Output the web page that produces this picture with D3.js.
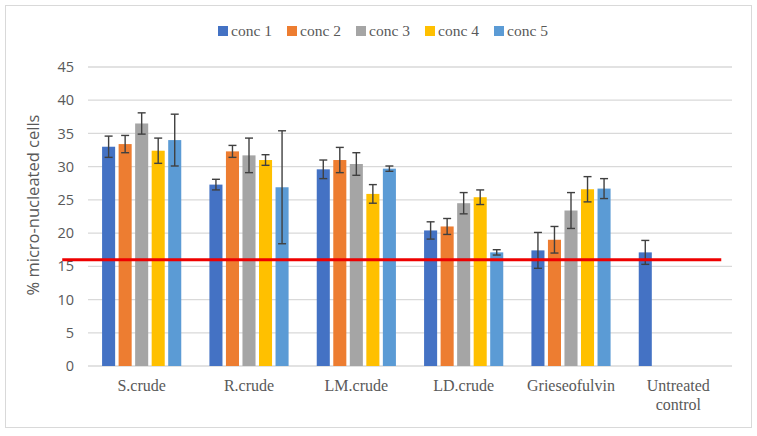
<!DOCTYPE html>
<html><head><meta charset="utf-8">
<script src="https://cdn.jsdelivr.net/npm/d3@7/dist/d3.min.js"></script>
<style>body{margin:0;background:#fff}</style>
</head><body><svg id="c" width="757" height="436"></svg>
<script>
const categories = ["S.crude","R.crude","LM.crude","LD.crude","Grieseofulvin","Untreated control"];
const seriesNames = ["conc 1","conc 2","conc 3","conc 4","conc 5"];
const colors = ["#4472C4","#ED7D31","#A5A5A5","#FFC000","#5B9BD5"];
const conc1 = [33.0, 27.3, 29.6, 20.4, 17.4, 17.1];
const conc2 = [33.4, 32.3, 31.0, 21.0, 19.0, null];
const conc3 = [36.5, 31.7, 30.4, 24.5, 23.4, null];
const conc4 = [32.4, 31.0, 25.9, 25.4, 26.6, null];
const conc5 = [34.0, 26.9, 29.7, 17.1, 26.7, null];
const err1 = [1.6, 0.8, 1.4, 1.3, 2.7, 1.8];
const err2 = [1.3, 0.9, 1.9, 1.2, 2.0, null];
const err3 = [1.6, 2.6, 1.7, 1.6, 2.7, null];
const err4 = [1.9, 0.8, 1.4, 1.1, 1.9, null];
const err5 = [3.9, 8.5, 0.4, 0.4, 1.5, null];
const yTicks = [0,5,10,15,20,25,30,35,40,45];
const refValue = 16;
const refExtent = [-0.24, 5.9]; // in category-index units
const yTitle = "% micro-nucleated cells";

const values = [conc1,conc2,conc3,conc4,conc5];
const errs = [err1,err2,err3,err4,err5];

const svg = d3.select("#c");
const L = 88, R = 732, T = 67, B = 366;

svg.append("rect").attr("x",5.5).attr("y",5.5).attr("width",746).attr("height",422)
  .attr("fill","#fff").attr("stroke","#d9d9d9").attr("stroke-width",1);

const y = d3.scaleLinear().domain([0,45]).range([B,T]);
const x0 = d3.scaleBand().domain(categories).range([L,R]).paddingInner(0.23).paddingOuter(0.115);
const x1 = d3.scaleBand().domain(seriesNames).range([0,x0.bandwidth()]).paddingInner(0.21).paddingOuter(0.105);
const xi = d3.scaleLinear().domain([0,6]).range([L,R]);

// gridlines
svg.append("g").selectAll("line").data(yTicks).join("line")
  .attr("x1",L).attr("x2",R).attr("y1",d=>y(d)).attr("y2",d=>y(d))
  .attr("stroke","#d9d9d9").attr("stroke-width",1.3);

// y tick labels
svg.append("g").selectAll("text").data(yTicks).join("text")
  .attr("x",74).attr("y",d=>y(d)).attr("dy","0.35em").attr("text-anchor","end")
  .attr("font-family","Open Sans, sans-serif").attr("font-size",14.5).attr("fill","#595959")
  .text(d=>d);

// y title
svg.append("text").attr("transform",`translate(39,205) rotate(-90)`)
  .attr("text-anchor","middle").attr("font-family","Open Sans, sans-serif")
  .attr("font-size",16.5).attr("fill","#595959").text(yTitle);

// bars
const rows = [];
categories.forEach((c,i)=>seriesNames.forEach((s,j)=>{
  if(values[j][i]!=null) rows.push({c,s,j,v:values[j][i],e:errs[j][i]});
}));
svg.append("g").selectAll("rect").data(rows).join("rect")
  .attr("x",d=>x0(d.c)+x1(d.s)).attr("width",x1.bandwidth())
  .attr("y",d=>y(d.v)).attr("height",d=>y(0)-y(d.v)).attr("fill",d=>colors[d.j]);

// error bars
const eg = svg.append("g").attr("stroke","#404040").attr("stroke-width",1.4);
rows.forEach(d=>{
  const cx = x0(d.c)+x1(d.s)+x1.bandwidth()/2;
  eg.append("line").attr("x1",cx).attr("x2",cx).attr("y1",y(d.v+d.e)).attr("y2",y(d.v-d.e));
  [d.v+d.e,d.v-d.e].forEach(v=>eg.append("line").attr("x1",cx-4).attr("x2",cx+4).attr("y1",y(v)).attr("y2",y(v)));
});

// red reference line
svg.append("line").attr("x1",xi(refExtent[0])).attr("x2",xi(refExtent[1]))
  .attr("y1",y(refValue)).attr("y2",y(refValue)).attr("stroke","#ee0000").attr("stroke-width",3);

// x labels
const xl = svg.append("g").attr("font-family","Liberation Serif, serif").attr("font-size",16).attr("fill","#595959").attr("text-anchor","middle");
categories.forEach(c=>{
  const cx = x0(c)+x0.bandwidth()/2;
  const words = c==="Untreated control" ? ["Untreated","control"] : [c];
  words.forEach((w,k)=>xl.append("text").attr("x",cx).attr("y",391+k*19).text(w));
});

// legend
const lg = svg.append("g").attr("font-family","Liberation Serif, serif").attr("font-size",15.5).attr("fill","#595959");
seriesNames.forEach((s,j)=>{
  const lx = 218 + j*69;
  lg.append("rect").attr("x",lx).attr("y",26).attr("width",10).attr("height",10).attr("fill",colors[j]);
  lg.append("text").attr("x",lx+13).attr("y",36).text(s);
});
</script></body></html>
